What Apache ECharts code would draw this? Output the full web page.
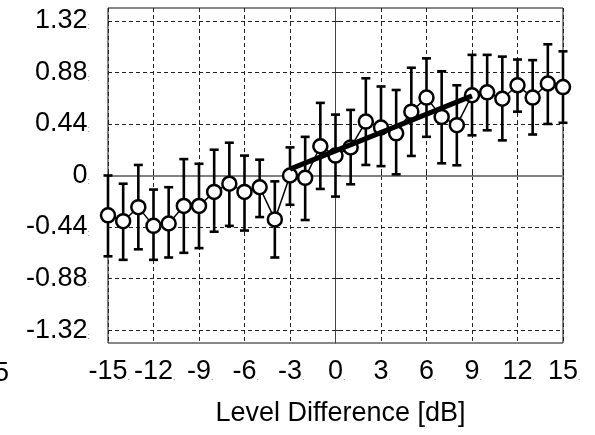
<!DOCTYPE html>
<html>
<head>
<meta charset="utf-8">
<script src="https://cdn.jsdelivr.net/npm/echarts@6/dist/echarts.min.js"></script>
<style>
html,body{margin:0;padding:0;background:#fff;}
#chart{width:595px;height:435px;}
</style>
</head>
<body>
<div id="chart"></div>
<script>
// ---- data ----
const levelDiff = [-15,-14,-13,-12,-11,-10,-9,-8,-7,-6,-5,-4,-3,-2,-1,0,1,2,3,4,5,6,7,8,9,10,11,12,13,14,15];
const meanVals  = [-0.34,-0.39,-0.27,-0.43,-0.41,-0.26,-0.26,-0.14,-0.07,-0.14,-0.10,-0.375,0.00,-0.02,0.25,0.17,0.24,0.46,0.41,0.36,0.545,0.665,0.50,0.43,0.685,0.71,0.655,0.77,0.665,0.785,0.755];
const upperVals = [0.00,-0.07,0.09,-0.12,-0.10,0.14,0.10,0.22,0.28,0.17,0.135,-0.05,0.24,0.33,0.62,0.52,0.56,0.83,0.76,0.73,0.92,1.00,0.89,0.77,1.03,1.03,1.015,0.99,0.985,1.12,1.06];
const lowerVals = [-0.69,-0.72,-0.63,-0.72,-0.70,-0.66,-0.62,-0.48,-0.43,-0.47,-0.355,-0.70,-0.25,-0.38,-0.115,-0.18,-0.075,0.09,0.08,0.01,0.167,0.33,0.104,0.087,0.343,0.386,0.30,0.545,0.35,0.44,0.45];
const fitX = [-3, 9];
const fitY = [0.055, 0.68];
const yTickVals = [-1.32,-0.88,-0.44,0,0.44,0.88,1.32];
const xAxisTitle = 'Level Difference [dB]';
const strayLabel = '-15';

// ---- chart ----
const FONT = '"Liberation Sans", Arial, Helvetica, sans-serif';
const chart = echarts.init(document.getElementById('chart'), null, {renderer:'canvas'});

const pointData = levelDiff.map((x, i) => [x, meanVals[i]]);
const errData = levelDiff.map((x, i) => [x, lowerVals[i], upperVals[i]]);
const fitData = fitX.map((x, i) => [x, fitY[i]]);

const dashStyle = {color:'#222', width:1, type:[4,3]};
const richLabel = {
  v:{fontSize:27, color:'#000', fontFamily:FONT},
  e:{fontSize:9, color:'rgba(0,0,0,0)', fontFamily:FONT},
  d:{fontSize:9, color:'#888', fontFamily:FONT, verticalAlign:'bottom', padding:[0,0,3,0]}
};

chart.setOption({
  animation:false,
  backgroundColor:'#fff',
  textStyle:{fontFamily:FONT},
  grid:{left:108, right:32, top:8, bottom:92, show:true, borderColor:'#111', borderWidth:1, backgroundColor:'transparent'},
  xAxis:{
    type:'value', min:-15, max:15, interval:3,
    axisLine:{show:true, lineStyle:{color:'#808080', width:2}},
    axisTick:{show:true, inside:true, length:5, lineStyle:{color:'#222', width:1}},
    splitLine:{show:true, lineStyle:dashStyle},
    axisLabel:{margin:15, formatter:v => '{e|.}{v|' + v + '}{d|.}', rich:richLabel},
    name:xAxisTitle, nameLocation:'middle', nameGap:57,
    nameTextStyle:{fontSize:27, color:'#000', fontFamily:FONT, padding:[0,0,0,10]}
  },
  yAxis:{
    type:'value', min:-1.43, max:1.43,
    axisLine:{show:true, lineStyle:{color:'#444', width:1}},
    axisTick:{show:true, inside:true, length:5, customValues:yTickVals, lineStyle:{color:'#222', width:1}},
    splitLine:{show:true, lineStyle:dashStyle},
    axisLabel:{margin:18, customValues:yTickVals, formatter:v => '{v|' + (Math.round(v*100)/100) + '}{d|:}', rich:richLabel}
  },
  graphic:[{
    type:'text', x:9, y:374,
    style:{text:strayLabel, font:'27px ' + FONT, fill:'#000', align:'right', verticalAlign:'middle'}
  }],
  series:[
    {
      type:'custom', data:errData, z:2,
      encode:{x:0, y:[1,2]},
      renderItem:function(params, api){
        const x = api.value(0), lo = api.value(1), hi = api.value(2);
        const pH = api.coord([x, hi]);
        const pL = api.coord([x, lo]);
        const w = 4.5;
        const st = {stroke:'#000', lineWidth:2.6};
        return {type:'group', children:[
          {type:'line', shape:{x1:pH[0], y1:pH[1], x2:pL[0], y2:pL[1]}, style:st},
          {type:'line', shape:{x1:pH[0]-w, y1:pH[1], x2:pH[0]+w, y2:pH[1]}, style:st},
          {type:'line', shape:{x1:pL[0]-w, y1:pL[1], x2:pL[0]+w, y2:pL[1]}, style:st}
        ]};
      }
    },
    {
      type:'line', data:pointData, z:3,
      symbol:'circle', symbolSize:14,
      lineStyle:{color:'#000', width:1.5},
      itemStyle:{color:'#fff', borderColor:'#000', borderWidth:2.5}
    },
    {
      type:'line', data:fitData, z:4,
      symbol:'none',
      lineStyle:{color:'#000', width:5}
    }
  ]
});
</script>
</body>
</html>
